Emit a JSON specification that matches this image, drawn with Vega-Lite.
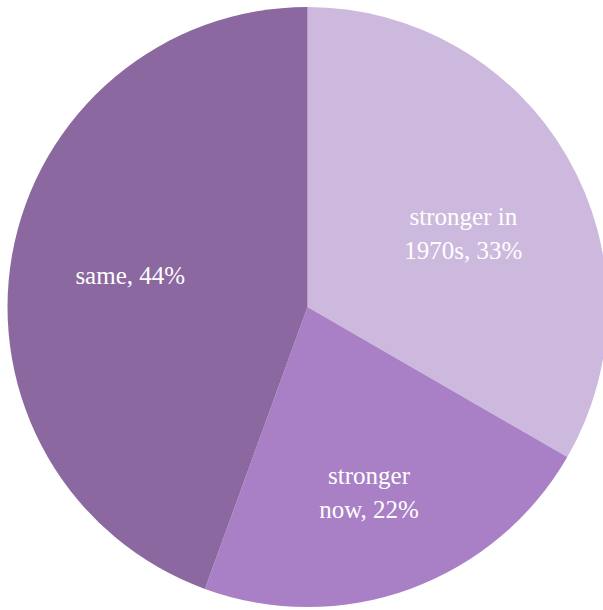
{
  "$schema": "https://vega.github.io/schema/vega-lite/v6.json",
  "width": 615,
  "height": 614,
  "padding": 0,
  "autosize": {"type": "none"},
  "background": "white",
  "view": {"stroke": null},
  "data": {
    "values": [
      {"answer": "stronger in 1970s", "share": 33, "rank": 1, "label": "stronger in\n1970s, 33%"},
      {"answer": "stronger now", "share": 22, "rank": 2, "label": "stronger\nnow, 22%"},
      {"answer": "same", "share": 44, "rank": 3, "label": "same, 44%"}
    ]
  },
  "encoding": {
    "theta": {"field": "share", "type": "quantitative", "stack": true},
    "order": {"field": "rank", "type": "quantitative"}
  },
  "layer": [
    {
      "mark": {"type": "arc", "radius": 300, "stroke": null},
      "encoding": {
        "color": {
          "field": "answer",
          "type": "nominal",
          "scale": {
            "domain": ["stronger in 1970s", "stronger now", "same"],
            "range": ["#cdb9dd", "#a980c5", "#8b68a0"]
          },
          "legend": null
        }
      }
    },
    {
      "mark": {
        "type": "text",
        "radius": 180,
        "font": "Liberation Serif",
        "fontSize": 25,
        "lineHeight": 34,
        "lineBreak": "\n",
        "color": "white",
        "align": "center",
        "baseline": "middle"
      },
      "encoding": {
        "text": {"field": "label", "type": "nominal"}
      }
    }
  ]
}
